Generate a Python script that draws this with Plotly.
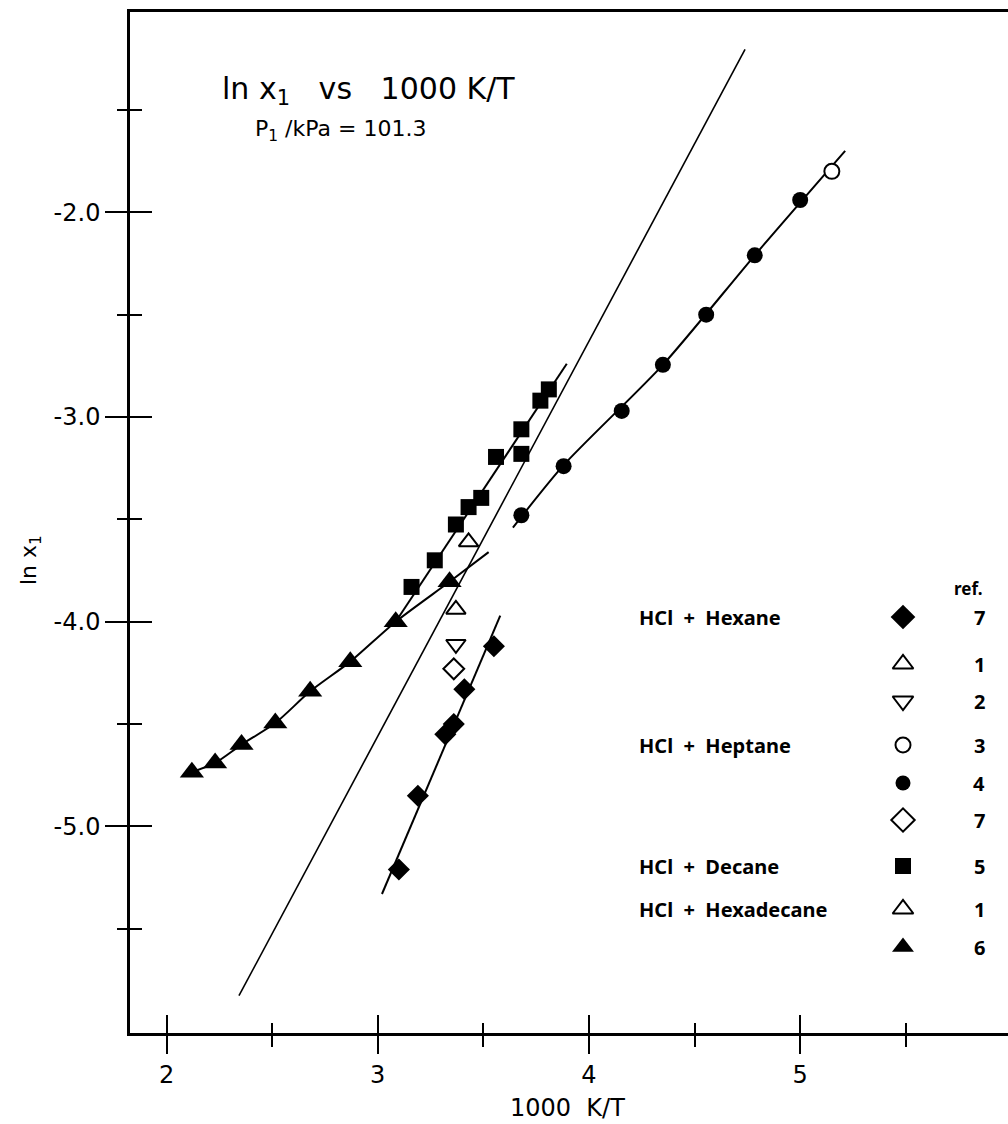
import plotly.graph_objects as go

# ---- canvas / plot-area geometry -------------------------------------------
W, H = 1008, 1124
ML, MR, MT, MB = 130, 0, 12, 91
X_RANGE = [1.827, 5.984]
Y_RANGE = [-6.009, -1.0215]

# ---- measured solubilities: ln x1 against 1000 K/T --------------------------
# HCl + Hexane
hexane_ref7_x = [3.10, 3.19, 3.32, 3.36, 3.41, 3.55]
hexane_ref7_y = [-5.21, -4.85, -4.55, -4.50, -4.33, -4.12]
hexane_ref1_x = [3.37]
hexane_ref1_y = [-3.94]
hexane_ref2_x = [3.37]
hexane_ref2_y = [-4.11]

# HCl + Heptane
heptane_ref3_x = [5.15]
heptane_ref3_y = [-1.80]
heptane_ref4_x = [3.68, 3.88, 4.155, 4.35, 4.555, 4.785, 5.00]
heptane_ref4_y = [-3.48, -3.24, -2.97, -2.745, -2.50, -2.21, -1.94]
heptane_ref7_x = [3.36]
heptane_ref7_y = [-4.23]

# HCl + Decane
decane_ref5_x = [3.16, 3.27, 3.37, 3.43, 3.49, 3.56, 3.68, 3.68, 3.77, 3.81]
decane_ref5_y = [-3.83, -3.70, -3.525, -3.44, -3.395, -3.195, -3.18, -3.06, -2.92, -2.865]

# HCl + Hexadecane
hexadecane_ref1_x = [3.43]
hexadecane_ref1_y = [-3.61]
hexadecane_ref6_x = [2.12, 2.23, 2.355, 2.515, 2.68, 2.87, 3.085, 3.34]
hexadecane_ref6_y = [-4.735, -4.69, -4.60, -4.495, -4.34, -4.195, -4.00, -3.805]

# ---- smoothing curves and the ideal-solubility line -------------------------
hexane_fit_x = [3.02, 3.58]
hexane_fit_y = [-5.33, -3.97]
heptane_fit_x = [3.64, 3.88, 4.35, 4.785, 5.213]
heptane_fit_y = [-3.54, -3.235, -2.745, -2.21, -1.70]
decane_fit_x = [3.085, 3.895]
decane_fit_y = [-4.00, -2.74]
hexadecane_fit_x = [2.12, 2.23, 2.355, 2.515, 2.68, 2.87, 3.085, 3.34, 3.525]
hexadecane_fit_y = [-4.735, -4.69, -4.60, -4.495, -4.34, -4.195, -4.00, -3.805, -3.66]
ideal_x = [2.343, 4.739]
ideal_y = [-5.827, -1.204]

# ---- axis ticks --------------------------------------------------------------
x_major = [2, 3, 4, 5]
x_labels = ["2", "3", "4", "5"]
x_minor = [2.5, 3.5, 4.5, 5.5]
y_major = [-5, -4, -3, -2]
y_labels = ["-5.0", "-4.0", "-3.0", "-2.0"]
y_minor = [-5.5, -4.5, -3.5, -2.5, -1.5]

# ---- key: group label, row symbol, fill, reference number --------------------
key_groups = ["HCl  +  Hexane", "HCl  +  Heptane", "HCl  +  Decane", "HCl  +  Hexadecane"]
key_group_rows = [0, 3, 6, 7]
key_symbols = ["diamond", "triangle-up", "triangle-down", "circle", "circle",
               "diamond", "square", "triangle-up", "triangle-up"]
key_filled = [True, False, False, False, True, False, True, False, True]
key_sizes = [19, 18, 18, 15, 15, 18, 16, 18, 19]
key_refs = ["7", "1", "2", "3", "4", "7", "5", "1", "6"]
key_row_px = [617, 664, 701, 745, 783, 820, 866, 909, 947]

INK = "black"
FONT = "DejaVu Sans"
KEY_FONT = "Noto Sans"


def px_to_x(px):
    return X_RANGE[0] + (px - ML) / (W - ML - MR) * (X_RANGE[1] - X_RANGE[0])


def py_to_y(py):
    return Y_RANGE[1] - (py - MT) / (H - MT - MB) * (Y_RANGE[1] - Y_RANGE[0])


def paper_x(px):
    return (px - ML) / (W - ML - MR)


def paper_y(py):
    return 1 - (py - MT) / (H - MT - MB)


def marker_style(symbol, filled, size):
    return dict(symbol=symbol, size=size,
                color=INK if filled else "white",
                line=dict(color=INK, width=0 if filled else 2))


fig = go.Figure()

# curves first so the symbols sit on top
for cx, cy, shape in [(ideal_x, ideal_y, "linear"),
                      (hexane_fit_x, hexane_fit_y, "linear"),
                      (heptane_fit_x, heptane_fit_y, "spline"),
                      (decane_fit_x, decane_fit_y, "linear"),
                      (hexadecane_fit_x, hexadecane_fit_y, "spline")]:
    fig.add_trace(go.Scatter(x=cx, y=cy, mode="lines",
                             line=dict(color=INK, width=2 if cx is not ideal_x else 1.6,
                                       shape=shape, smoothing=0.7),
                             hoverinfo="skip", showlegend=False))

points = [
    (hexadecane_ref6_x, hexadecane_ref6_y, "triangle-up", True, 21),
    (decane_ref5_x, decane_ref5_y, "square", True, 16),
    (heptane_ref4_x, heptane_ref4_y, "circle", True, 16),
    (heptane_ref3_x, heptane_ref3_y, "circle", False, 15),
    (hexane_ref7_x, hexane_ref7_y, "diamond", True, 17),
    (hexane_ref1_x, hexane_ref1_y, "triangle-up", False, 17),
    (hexane_ref2_x, hexane_ref2_y, "triangle-down", False, 17),
    (heptane_ref7_x, heptane_ref7_y, "diamond", False, 16),
    (hexadecane_ref1_x, hexadecane_ref1_y, "triangle-up", False, 17),
]
for px, py, sym, filled, size in points:
    fig.add_trace(go.Scatter(x=px, y=py, mode="markers",
                             marker=marker_style(sym, filled, size),
                             hoverinfo="skip", showlegend=False))

# key symbols
key_x = px_to_x(903)
for sym, filled, size, rpx in zip(key_symbols, key_filled, key_sizes, key_row_px):
    fig.add_trace(go.Scatter(x=[key_x], y=[py_to_y(rpx)], mode="markers",
                             marker=marker_style(sym, filled, size),
                             cliponaxis=False, hoverinfo="skip", showlegend=False))

# empty trace on the overlay axes that carry the inward half of each tick
fig.add_trace(go.Scatter(x=[None], y=[None], xaxis="x2", yaxis="y2",
                         showlegend=False, hoverinfo="skip"))

annotations = []
for label, row in zip(key_groups, key_group_rows):
    annotations.append(dict(x=paper_x(637), y=paper_y(key_row_px[row]), xref="paper", yref="paper",
                            text=label, showarrow=False, xanchor="left", yanchor="middle",
                            font=dict(family=KEY_FONT, size=20, color=INK, weight="bold")))
for ref, rpx in zip(key_refs, key_row_px):
    annotations.append(dict(x=paper_x(979), y=paper_y(rpx), xref="paper", yref="paper",
                            text=ref, showarrow=False, xanchor="center", yanchor="middle",
                            font=dict(family=KEY_FONT, size=20, color=INK, weight="bold")))
annotations.append(dict(x=paper_x(968), y=paper_y(588), xref="paper", yref="paper",
                        text="ref.", showarrow=False, xanchor="center", yanchor="middle",
                        font=dict(family=KEY_FONT, size=17, color=INK, weight="bold")))

annotations.append(dict(x=paper_x(368), y=paper_y(91), xref="paper", yref="paper",
                        text="ln x<sub>1</sub>   vs   1000 K/T", showarrow=False,
                        xanchor="center", yanchor="middle",
                        font=dict(family=FONT, size=30, color=INK)))
annotations.append(dict(x=paper_x(340), y=paper_y(130), xref="paper", yref="paper",
                        text="P<sub>1</sub> /kPa = 101.3", showarrow=False,
                        xanchor="center", yanchor="middle",
                        font=dict(family=FONT, size=22, color=INK)))
annotations.append(dict(x=paper_x(30), y=paper_y(560), xref="paper", yref="paper",
                        text="ln x<sub>1</sub>", showarrow=False, textangle=-90,
                        xanchor="center", yanchor="middle",
                        font=dict(family=FONT, size=22, color=INK)))
annotations.append(dict(x=paper_x(567), y=paper_y(1108), xref="paper", yref="paper",
                        text="1000  K/T", showarrow=False,
                        xanchor="center", yanchor="middle",
                        font=dict(family=FONT, size=24, color=INK)))

tick_font = dict(family=FONT, size=24, color=INK)

fig.update_layout(
    width=W, height=H,
    margin=dict(l=ML, r=MR, t=MT, b=MB, pad=0),
    paper_bgcolor="white", plot_bgcolor="white",
    showlegend=False,
    annotations=annotations,
    xaxis=dict(range=X_RANGE, showgrid=False, zeroline=False,
               showline=True, linecolor=INK, linewidth=2.5, mirror=True,
               tickmode="array", tickvals=x_major, ticktext=x_labels,
               ticks="outside", ticklen=18, tickwidth=2, tickcolor=INK,
               tickfont=tick_font,
               minor=dict(tickmode="array", tickvals=x_minor, ticks="outside",
                          ticklen=11, tickwidth=2, tickcolor=INK, showgrid=False)),
    yaxis=dict(range=Y_RANGE, showgrid=False, zeroline=False,
               showline=True, linecolor=INK, linewidth=2.5, mirror=False,
               tickmode="array", tickvals=y_major, ticktext=y_labels,
               ticks="outside", ticklen=22, tickwidth=2, tickcolor=INK,
               tickfont=tick_font,
               minor=dict(tickmode="array", tickvals=y_minor, ticks="outside",
                          ticklen=10, tickwidth=2, tickcolor=INK, showgrid=False)),
    xaxis2=dict(range=X_RANGE, overlaying="x", anchor="y", side="bottom",
                showgrid=False, zeroline=False, showline=False, showticklabels=False,
                tickmode="array", tickvals=x_major,
                ticks="inside", ticklen=18, tickwidth=2, tickcolor=INK,
                minor=dict(tickmode="array", tickvals=x_minor, ticks="inside",
                           ticklen=10, tickwidth=2, tickcolor=INK, showgrid=False)),
    yaxis2=dict(range=Y_RANGE, overlaying="y", anchor="x", side="left",
                showgrid=False, zeroline=False, showline=False, showticklabels=False,
                tickmode="array", tickvals=y_major,
                ticks="inside", ticklen=22, tickwidth=2, tickcolor=INK,
                minor=dict(tickmode="array", tickvals=y_minor, ticks="inside",
                           ticklen=12, tickwidth=2, tickcolor=INK, showgrid=False)),
)

fig.write_html("out.html")
